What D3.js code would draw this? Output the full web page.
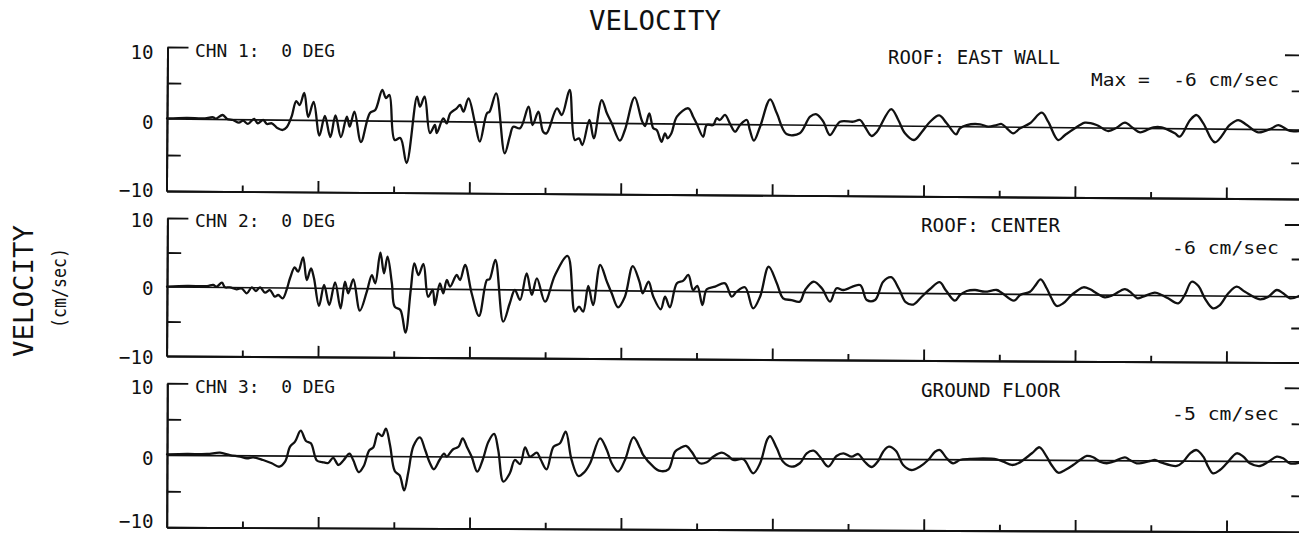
<!DOCTYPE html>
<html><head><meta charset="utf-8">
<script src="https://cdn.jsdelivr.net/npm/d3@7"></script>
<style>
body{margin:0;background:#fff}
svg{display:block}
text{font-family:"DejaVu Sans Mono",monospace;fill:#111;white-space:pre}
</style>
</head><body><svg id="c" width="1299" height="533"></svg>
<script>
// ---------- DATA ----------
const title = "VELOCITY";
const yTitle = "VELOCITY";
const yUnits = "(cm/sec)";
const channelLabels = ["CHN 1:  0 DEG", "CHN 2:  0 DEG", "CHN 3:  0 DEG"];
const locationLabels = ["ROOF: EAST WALL", "ROOF: CENTER", "GROUND FLOOR"];
const maxLabels = ["Max =  -6 cm/sec", "-6 cm/sec", "-5 cm/sec"];
const yTickValues = [10, 0, -10];
const yTickLabels = ["10", "0", "\u221210"];
const timeDomain = [0, 30];
const majorTicks = [4, 8, 12, 16, 20, 24, 28];
const minorTicks = [2, 6, 10, 14, 18, 22, 26];

// [time s, velocity cm/sec]
const chn1 = [[0,0.07],[0.53,0.19],[0.95,0.12],[1.22,0.30],[1.29,0.11],[1.47,0.63],[1.59,0.08],[1.74,-0.05],[1.90,-0.42],[2.01,-0.13],[2.14,-0.58],[2.30,0.12],[2.40,-0.48],[2.54,-0.01],[2.64,-0.56],[2.77,-0.46],[2.93,-1.15],[3.06,-1.37],[3.17,-0.95],[3.29,0.49],[3.41,2.67],[3.50,2.12],[3.62,3.80],[3.73,0.47],[3.87,2.56],[4.03,-2.09],[4.17,0.63],[4.32,-2.28],[4.45,0.71],[4.60,-2.27],[4.75,0.56],[4.83,-0.82],[4.95,1.27],[5.13,-2.93],[5.36,1.11],[5.50,1.53],[5.68,4.32],[5.78,3.21],[5.87,3.63],[6.02,-2.61],[6.17,-2.32],[6.34,-5.79],[6.60,3.43],[6.68,2.05],[6.80,3.44],[6.95,-1.59],[7.08,-0.47],[7.13,-1.58],[7.30,0.47],[7.39,-0.22],[7.48,1.17],[7.65,1.88],[7.74,2.34],[7.83,1.41],[7.96,3.28],[8.14,-0.18],[8.27,-2.73],[8.45,1.22],[8.52,1.45],[8.69,4.01],[8.93,-4.31],[9.06,-2.00],[9.15,-0.60],[9.33,-0.82],[9.55,2.19],[9.66,-0.34],[9.81,1.51],[9.94,-1.26],[10.03,-1.48],[10.30,2.01],[10.43,1.09],[10.63,4.57],[10.78,-2.37],[10.89,-2.13],[10.98,-3.05],[11.16,0.43],[11.28,-2.11],[11.48,3.22],[11.62,1.38],[11.75,0.00],[11.97,-2.40],[12.10,-0.91],[12.35,3.64],[12.54,0.50],[12.63,-0.33],[12.74,1.44],[12.85,-0.64],[12.94,-0.87],[13.07,-2.49],[13.16,-1.32],[13.23,-2.01],[13.33,-1.31],[13.47,1.01],[13.77,2.19],[13.90,1.03],[13.99,0.12],[14.17,-1.74],[14.26,-0.11],[14.43,-0.10],[14.52,0.84],[14.61,0.61],[14.74,1.31],[14.87,0.16],[15.01,-1.00],[15.14,-0.06],[15.32,0.64],[15.40,-0.74],[15.51,-2.22],[15.67,-0.27],[15.93,3.55],[16.11,1.61],[16.37,-1.25],[16.72,-1.13],[16.99,1.19],[17.16,1.53],[17.34,0.51],[17.52,-1.33],[17.78,0.53],[18.13,0.55],[18.31,0.79],[18.44,-0.13],[18.62,-1.41],[18.76,-0.81],[19.13,2.36],[19.32,0.85],[19.50,-0.99],[19.74,-1.91],[19.95,-0.75],[20.16,0.65],[20.40,1.53],[20.60,0.45],[20.85,-1.06],[20.95,-0.22],[21.13,0.24],[21.48,0.36],[21.70,0.04],[21.92,0.28],[22.05,0.43],[22.19,-0.16],[22.36,-0.85],[22.54,-0.14],[22.80,0.57],[23.11,2.05],[23.28,0.81],[23.55,-1.72],[23.73,-1.01],[24.12,0.40],[24.25,0.72],[24.56,0.42],[24.87,-0.40],[25.09,0.07],[25.31,0.78],[25.53,0.01],[25.71,-0.54],[26.06,0.18],[26.28,0.19],[26.63,-0.63],[26.76,-1.09],[27.03,1.24],[27.20,1.94],[27.38,0.80],[27.69,-1.82],[28.08,0.60],[28.30,1.30],[28.53,0.62],[28.83,-0.38],[29.19,0.20],[29.36,0.66],[29.67,-0.15],[29.91,-0.14]];

const chn2 = [[0,0.04],[0.53,0.17],[1.06,0.19],[1.22,0.35],[1.31,0.11],[1.45,0.69],[1.53,0.03],[1.66,0.03],[1.84,-0.25],[1.97,-0.10],[2.11,-0.81],[2.24,0.06],[2.35,-0.47],[2.46,0.07],[2.59,-0.70],[2.72,-0.31],[2.85,-1.27],[2.94,-1.02],[3.06,-1.49],[3.16,-0.28],[3.25,1.46],[3.37,2.99],[3.46,2.38],[3.59,4.47],[3.69,1.19],[3.80,2.86],[3.88,1.49],[4.02,-2.56],[4.15,0.49],[4.29,-2.41],[4.44,0.89],[4.59,-2.87],[4.70,0.99],[4.79,-0.69],[4.92,1.35],[5.10,-3.19],[5.28,-0.43],[5.41,1.99],[5.50,0.80],[5.63,5.24],[5.73,2.26],[5.82,4.67],[5.94,0.82],[6.02,-2.57],[6.17,-3.04],[6.31,-6.32],[6.44,-0.13],[6.53,3.74],[6.64,2.05],[6.77,3.65],[6.90,-1.08],[7.02,-0.10],[7.08,-2.28],[7.21,0.88],[7.30,-0.57],[7.39,1.36],[7.48,0.40],[7.65,2.10],[7.74,1.38],[7.87,3.56],[8.05,-0.53],[8.25,-3.81],[8.45,1.41],[8.52,1.52],[8.67,4.32],[8.89,-4.61],[9.06,-1.93],[9.19,0.00],[9.33,-1.44],[9.50,2.43],[9.64,-0.70],[9.77,1.72],[9.99,-1.66],[10.25,2.22],[10.58,4.99],[10.78,-3.07],[10.89,-2.34],[11.00,-3.06],[11.13,0.67],[11.26,-2.08],[11.44,3.73],[11.62,1.32],[11.75,-0.36],[11.92,-2.38],[12.10,-0.83],[12.30,3.62],[12.48,1.36],[12.57,-0.32],[12.72,1.37],[12.85,-0.80],[13.05,-2.62],[13.16,-0.79],[13.29,-2.31],[13.47,1.17],[13.64,1.56],[13.77,2.39],[13.90,0.22],[14.01,0.81],[14.15,-1.94],[14.26,0.34],[14.48,0.73],[14.74,1.23],[14.92,-0.70],[15.05,0.03],[15.27,0.68],[15.49,-2.36],[15.67,-0.67],[15.89,3.69],[16.11,1.30],[16.28,-0.87],[16.50,-1.11],[16.72,-1.34],[16.86,0.36],[17.08,1.57],[17.30,0.63],[17.52,-1.30],[17.69,0.65],[17.87,0.41],[18.31,1.15],[18.49,-1.01],[18.71,-1.00],[18.92,1.66],[19.13,2.32],[19.34,0.62],[19.52,-1.28],[19.72,-1.61],[19.94,-0.47],[20.16,0.66],[20.41,1.66],[20.58,0.46],[20.82,-1.00],[20.95,-0.17],[21.13,0.42],[21.35,0.57],[21.61,0.34],[21.92,0.60],[22.05,0.21],[22.38,-0.93],[22.54,-0.10],[22.80,0.39],[22.93,1.23],[23.08,2.20],[23.24,0.91],[23.37,-0.53],[23.51,-1.64],[23.68,-1.25],[23.90,-0.03],[24.21,1.10],[24.39,0.82],[24.56,0.25],[24.78,-0.32],[25.00,0.02],[25.31,0.90],[25.49,0.29],[25.64,-0.43],[25.79,-0.19],[26.10,0.41],[26.28,0.08],[26.45,-0.39],[26.72,-1.10],[26.89,0.11],[27.07,2.04],[27.25,1.43],[27.42,-0.34],[27.64,-1.78],[27.82,-1.30],[28.04,0.41],[28.26,1.38],[28.48,0.66],[28.88,-0.42],[29.10,-0.03],[29.32,0.95],[29.49,0.48],[29.67,-0.24],[29.91,0.11]];

const chn3 = [[0,0.14],[0.53,0.20],[1.06,0.21],[1.40,0.40],[1.66,0.09],[1.93,-0.14],[2.11,-0.35],[2.28,-0.21],[2.54,-0.58],[2.77,-1.03],[2.97,-1.50],[3.12,-0.80],[3.25,1.29],[3.38,1.99],[3.53,3.52],[3.67,2.10],[3.80,1.78],[3.96,-0.60],[4.10,-0.81],[4.26,-0.94],[4.39,-0.22],[4.53,-1.21],[4.66,-0.58],[4.82,0.37],[4.92,-0.51],[5.07,-2.20],[5.20,-1.33],[5.34,0.83],[5.45,1.27],[5.57,3.21],[5.68,2.85],[5.78,3.87],[5.89,1.61],[6.02,-2.00],[6.15,-2.62],[6.27,-4.69],[6.38,-2.09],[6.51,1.48],[6.68,2.70],[6.82,0.94],[6.95,-0.90],[7.05,-1.73],[7.20,-0.44],[7.32,0.44],[7.39,0.03],[7.48,0.58],[7.56,1.06],[7.70,1.42],[7.81,2.59],[7.92,1.43],[8.05,0.04],[8.20,-2.03],[8.34,-0.41],[8.49,2.14],[8.64,3.22],[8.75,1.00],[8.89,-3.40],[9.06,-2.23],[9.19,-0.38],[9.33,-0.93],[9.46,1.39],[9.59,0.09],[9.77,0.65],[9.87,-0.26],[10.03,-1.65],[10.21,1.50],[10.38,1.98],[10.53,3.59],[10.69,-0.33],[10.87,-2.55],[11.04,-1.95],[11.18,-0.78],[11.44,2.70],[11.62,1.08],[11.75,-0.76],[11.92,-1.92],[12.10,-0.29],[12.32,2.87],[12.50,1.34],[12.58,0.42],[12.85,-1.20],[13.03,-1.79],[13.25,-1.55],[13.42,0.90],[13.55,1.38],[13.71,1.70],[13.86,0.91],[14.08,-0.69],[14.26,-0.55],[14.43,0.23],[14.66,0.80],[14.83,0.34],[14.96,-0.21],[15.23,-0.10],[15.49,-2.04],[15.67,-0.65],[15.85,2.60],[15.93,3.15],[16.11,1.45],[16.28,-0.41],[16.50,-1.09],[16.72,-0.61],[16.90,0.78],[17.08,1.15],[17.25,0.32],[17.47,-1.06],[17.69,0.43],[17.87,0.81],[18.09,0.34],[18.26,0.72],[18.44,-0.38],[18.62,-1.07],[18.79,-0.23],[18.92,1.06],[19.07,1.76],[19.26,1.17],[19.45,-0.77],[19.67,-1.46],[19.89,-0.99],[20.11,-0.06],[20.29,1.10],[20.42,1.34],[20.60,0.20],[20.77,-0.49],[20.95,-0.03],[21.22,0.12],[21.57,0.22],[21.92,0.10],[22.10,-0.23],[22.32,-0.68],[22.49,-0.44],[22.85,0.96],[23.05,1.80],[23.24,0.50],[23.37,-0.65],[23.55,-1.72],[23.73,-1.34],[23.94,-0.64],[24.12,0.06],[24.30,0.63],[24.47,0.45],[24.65,-0.16],[24.83,-0.37],[25.00,-0.15],[25.31,0.47],[25.44,0.10],[25.62,-0.35],[25.97,-0.02],[26.10,0.12],[26.28,-0.25],[26.68,-0.69],[26.85,-0.09],[27.03,1.08],[27.20,1.54],[27.38,0.62],[27.51,-0.77],[27.64,-1.68],[27.82,-1.22],[28.00,-0.28],[28.26,1.12],[28.44,0.65],[28.61,-0.26],[28.88,-0.63],[29.10,-0.02],[29.32,0.68],[29.49,0.46],[29.67,-0.23],[29.91,-0.14]];

// ---------- LAYOUT ----------
const series = [chn1, chn2, chn3];
const layout = [
  {zero:119,   scale:7.2, slope:0.0097,  frameSlope:0.0070, tickBase:[59,129,197],  chnY:57.3, locY:64,  maxY:86},
  {zero:287,   scale:6.9, slope:0.0086,  frameSlope:0.0058, tickBase:[227,295,364], chnY:227,  locY:232, maxY:254},
  {zero:455.3, scale:7.2, slope:0.00565, frameSlope:0.0040, tickBase:[394,465,528], chnY:393, locY:397, maxY:420}
];
const X0 = 167, X1 = 1302.5;
const svg = d3.select("#c");
svg.append("rect").attr("width",1299).attr("height",533).attr("fill","#fff");
const x = d3.scaleLinear().domain(timeDomain).range([X0, X1]);
const SW = 1.9;
const deg = s => Math.atan(s) * 180 / Math.PI;

function styleAxis(sel){
  sel.selectAll("path,line").attr("stroke","#111").attr("stroke-width",SW);
  sel.selectAll("text").remove();
}

layout.forEach((L, i) => {
  const y = d3.scaleLinear().domain([-10, 10]).range([L.zero + 10*L.scale, L.zero - 10*L.scale]);
  const frame = svg.append("g").attr("transform", `rotate(${deg(L.frameSlope)},${X0},${L.zero})`);
  const g = svg.append("g").attr("transform", `rotate(${deg(L.slope)},${X0},${L.zero})`);

  frame.append("g").attr("transform", `translate(0,${y(-10)})`)
    .call(d3.axisBottom(x).tickValues(majorTicks).tickSizeInner(-11).tickSizeOuter(0).tickFormat(""))
    .call(styleAxis);
  frame.append("g").attr("transform", `translate(0,${y(-10)})`)
    .call(d3.axisBottom(x).tickValues(minorTicks).tickSizeInner(-6).tickSizeOuter(0).tickFormat(""))
    .call(styleAxis);
  frame.append("g").attr("transform", `translate(${X0},0)`)
    .call(d3.axisLeft(y).tickValues([10]).tickSizeInner(-21).tickSizeOuter(0).tickFormat(""))
    .call(styleAxis);
  frame.append("g").attr("transform", `translate(${X0},0)`)
    .call(d3.axisLeft(y).tickValues([5, -5]).tickSizeInner(-14).tickSizeOuter(0).tickFormat(""))
    .call(styleAxis);
  frame.append("g").attr("transform", `translate(${X1},0)`)
    .call(d3.axisRight(y).tickValues([10]).tickSizeInner(-18).tickSizeOuter(0).tickFormat(""))
    .call(styleAxis);
  frame.append("g").attr("transform", `translate(${X1},0)`)
    .call(d3.axisRight(y).tickValues([5, -5]).tickSizeInner(-11).tickSizeOuter(0).tickFormat(""))
    .call(styleAxis);

  g.append("line").attr("x1", x(timeDomain[0])).attr("x2", x(timeDomain[1]))
    .attr("y1", y(0)).attr("y2", y(0)).attr("stroke","#111").attr("stroke-width",1.7);
  const line = d3.line().x(d => x(d[0])).y(d => y(d[1])).curve(d3.curveCatmullRom.alpha(0.5));
  g.append("path").datum(series[i]).attr("d", line)
    .attr("fill","none").attr("stroke","#111").attr("stroke-width",2.3)
    .attr("stroke-linejoin","round").attr("stroke-linecap","round");

  yTickValues.forEach((v, k) => {
    svg.append("text").attr("x",153.5).attr("y",L.tickBase[k]).attr("text-anchor","end")
      .attr("font-size",19.2).text(yTickLabels[k]);
  });
  svg.append("text").attr("x",195).attr("y",L.chnY).attr("font-size",18)
    .attr("textLength",140).attr("lengthAdjust","spacingAndGlyphs").text(channelLabels[i]);
  const locW = [172,139,139][i];
  svg.append("text").attr("x",1060 - locW).attr("y",L.locY).attr("font-size",19.2)
    .attr("textLength",locW).attr("lengthAdjust","spacingAndGlyphs").text(locationLabels[i]);
  const maxW = [188,107,107][i];
  svg.append("text").attr("x",1279 - maxW).attr("y",L.maxY).attr("font-size",18.5)
    .attr("textLength",maxW).attr("lengthAdjust","spacingAndGlyphs").text(maxLabels[i]);
});

svg.append("text").attr("x",589).attr("y",30).attr("font-size",26)
  .attr("textLength",132).attr("lengthAdjust","spacingAndGlyphs").text(title);
svg.append("text").attr("transform","translate(33,357) rotate(-90)").attr("font-size",27)
  .attr("textLength",132).attr("lengthAdjust","spacingAndGlyphs").text(yTitle);
svg.append("text").attr("transform","translate(66,328) rotate(-90)").attr("font-size",19)
  .attr("textLength",80).attr("lengthAdjust","spacingAndGlyphs").text(yUnits);
</script>
</body></html>
